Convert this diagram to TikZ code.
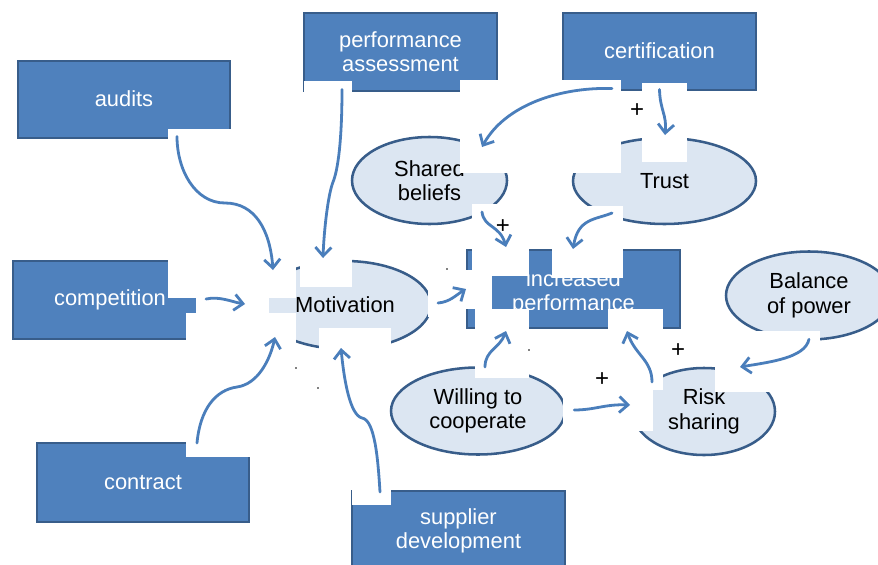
\documentclass[tikz,border=0pt]{standalone}
\usepackage{fontspec}
\setmainfont{Liberation Sans}
\usetikzlibrary{arrows.meta,shapes.geometric,calc}
\definecolor{boxfill}{HTML}{4F81BD}
\definecolor{boxline}{HTML}{385D8A}
\definecolor{ellfill}{HTML}{DCE6F2}
\definecolor{arrcol}{HTML}{4A7EBB}
\begin{document}
\begin{tikzpicture}[x=0.75pt,y=-0.75pt,
  sbox/.style={rectangle, fill=boxfill, draw=boxline, line width=1.5pt, text=white, align=center, inner sep=0pt, font=\fontsize{16.4}{18}\selectfont},
  sell/.style={ellipse, fill=ellfill, draw=boxline, line width=1.9pt, text=black, align=center, inner sep=0pt, font=\fontsize{16.4}{18.4}\selectfont},
  arr/.style={draw=arrcol, line width=2.1pt, line cap=round, line join=round, -{Straight Barb[length=6.5pt,width=12pt]}},
  patch/.style={fill=white, draw=none},
  plus/.style={font=\fontsize{18}{18}\selectfont, inner sep=0pt, text=black}]
\useasboundingbox (0,0) rectangle (878,564);
% boxes
\node[sbox, minimum width=159pt, minimum height=57.75pt] (audits) at (124,99) {audits};
\node[sbox, minimum width=144.75pt, minimum height=58.5pt] (perf) at (400.5,51.5) {performance\\assessment};
\node[sbox, minimum width=144.75pt, minimum height=57.75pt] (cert) at (659.5,51) {certification};
\node[sbox, minimum width=145.5pt, minimum height=58.5pt] (comp) at (110,300) {competition};
\node[sbox, minimum width=159pt, minimum height=59.25pt] (contract) at (143,482.5) {contract};
\node[sbox, minimum width=159.75pt, minimum height=60pt] (supplier) at (458.5,531) {supplier\\development};
\node[sbox, minimum width=159.75pt, minimum height=58.5pt] (incr) at (573.5,289) {};
\begin{scope}
\clip (467,273) rectangle (680,309);
\node[sbox, fill=none, draw=none] (incrtext) at (573.5,293) {increased\\performance};
\end{scope}
% ellipses
\node[sell, minimum width=129pt, minimum height=66pt] (motiv) at (345,305) {Motivation};
\node[sell, minimum width=116.25pt, minimum height=65.25pt] (shared) at (429.5,180.5) {Shared\\beliefs};
\node[sell, minimum width=137.25pt, minimum height=64.5pt] (trust) at (664.5,181) {Trust};
\node[sell, minimum width=124.5pt, minimum height=66pt] (balance) at (809,295.5) {Balance\\of power};
\node[sell, minimum width=130.5pt, minimum height=65.25pt] (willing) at (478,411) {Willing to\\cooperate};
\node[sell, minimum width=106.5pt, minimum height=65.25pt] (risk) at (704,411.5) {Risk\\sharing};
% white patches
\fill[patch] (472,204) rectangle (529,276);
\fill[patch] (428,270) rectangle (492,309);
\fill[patch] (428,283) rectangle (440,317);
\fill[patch] (475,309) rectangle (529,378);
\fill[patch] (552,206) rectangle (623,278);
\fill[patch] (608,309) rectangle (663,390);
\fill[patch] (715,331) rectangle (820,392);
\fill[patch] (630,390) rectangle (653,431);
\fill[patch] (563,385) rectangle (600,432);
\fill[patch] (300,259) rectangle (352,287);
\fill[patch] (168,255) rectangle (296,298);
\fill[patch] (196,298) rectangle (269,313);
\fill[patch] (186,313) rectangle (296,350);
\fill[patch] (319,328) rectangle (391,365);
\fill[patch] (460,80) rectangle (621,173);
\fill[patch] (642,83) rectangle (687,162);
\fill[patch] (168,129) rectangle (231,140);
\fill[patch] (304,81) rectangle (352,95);
\fill[patch] (352,490) rectangle (391,505);
\fill[patch] (186,442) rectangle (250,457);
% connectors
\draw[arr] ($(audits.south)+(53,-2)$) .. controls (177,170) and (195,203) .. (225,203) .. controls (255,203) and (270,230) .. ($(motiv.center)+(-72,-35)$);
\draw[arr] ($(perf.south)+(-58.5,-2)$) .. controls (342,140) and (338,170) .. (333,182) .. controls (328,195) and (324,230) .. ($(motiv.center)+(-22,-47)$);
\draw[arr] ($(comp.east)+(-2,-1)$) .. controls (220,296) and (232,302) .. ($(motiv.center)+(-100,-1)$);
\draw[arr] ($(contract.north)+(54,1)$) .. controls (200,410) and (215,390) .. (237,387) .. controls (258,384) and (270,360) .. ($(motiv.center)+(-70,32)$);
\draw[arr] ($(supplier.north)+(-78.5,2)$) .. controls (378,460) and (375,420) .. (362,418) .. controls (350,415) and (344,380) .. ($(motiv.center)+(-4,43)$);
\draw[arr] ($(cert.south)+(-47.5,-2)$) .. controls (560,87) and (505,105) .. ($(shared.center)+(52.5,-33.5)$);
\draw[arr] ($(cert.south)+(0,-1)$) .. controls (660,110) and (667,115) .. ($(trust.center)+(0.5,-46)$);
\draw[arr] ($(shared.center)+(52.5,31.5)$) .. controls (484,228) and (500,225) .. ($(incr.north)+(-67.5,-2)$);
\draw[arr] ($(trust.center)+(-52.5,32)$) .. controls (595,220) and (578,218) .. ($(incr.north)+(-0.5,0)$);
\draw[arr] ($(motiv.center)+(93,-2)$) .. controls (450,302) and (456,295) .. (incr.west);
\draw[arr] ($(willing.center)+(7,-44)$) .. controls (485,350) and (500,348) .. ($(incr.south)+(-67.5,2)$);
\draw[arr] ($(risk.center)+(-52,-29.5)$) .. controls (652,360) and (635,355) .. ($(incr.south)+(53.5,2)$);
\draw[arr] ($(willing.east)+(8,-1)$) .. controls (595,410) and (605,404) .. ($(risk.center)+(-74,-6.5)$);
\draw[arr] ($(balance.south)+(0,-1.5)$) .. controls (805,358) and (770,362) .. ($(risk.center)+(36,-44.5)$);
% labels
\node[plus] (p1) at (637,111) {+};
\node[plus] (p2) at (503,227) {+};
\node[plus] (p3) at (602,380) {+};
\node[plus] (p4) at (678,351) {+};
\fill (447,269) circle (0.7pt);
\fill (296,368) circle (0.7pt);
\fill (318,388) circle (0.7pt);
\fill (529,350) circle (0.7pt);
\end{tikzpicture}
\end{document}
